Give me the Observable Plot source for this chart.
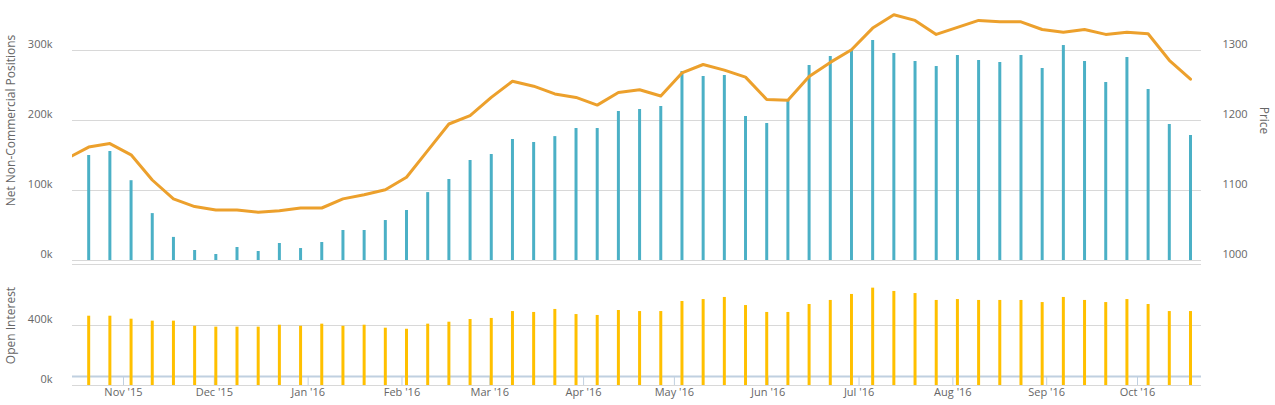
<!DOCTYPE html>
<html><head><meta charset="utf-8">
<script src="https://cdn.jsdelivr.net/npm/d3@7"></script>
<script src="https://cdn.jsdelivr.net/npm/@observablehq/plot@0.6"></script>
<style>
html,body{margin:0;padding:0;background:#fff;}
#chart{position:relative;width:1275px;height:405px;overflow:hidden;font-family:"Open Sans",sans-serif;}
#chart svg{position:absolute;left:0;}
</style></head><body><div id="chart"></div>
<script>
const weeks = ["2015-10-13","2015-10-20","2015-10-27","2015-11-03","2015-11-10","2015-11-17","2015-11-24","2015-12-01","2015-12-08","2015-12-15","2015-12-22","2015-12-29",
"2016-01-05","2016-01-12","2016-01-19","2016-01-26","2016-02-02","2016-02-09","2016-02-16","2016-02-23","2016-03-01","2016-03-08","2016-03-15","2016-03-22","2016-03-29",
"2016-04-05","2016-04-12","2016-04-19","2016-04-26","2016-05-03","2016-05-10","2016-05-17","2016-05-24","2016-05-31","2016-06-07","2016-06-14","2016-06-21","2016-06-28",
"2016-07-05","2016-07-12","2016-07-19","2016-07-26","2016-08-02","2016-08-09","2016-08-16","2016-08-23","2016-08-30","2016-09-06","2016-09-13","2016-09-20","2016-09-27",
"2016-10-04","2016-10-11","2016-10-18"];
const netPositions = [null,150000,155700,114000,67000,33000,14300,8600,18600,12900,24300,17100,25700,42900,42900,57100,71400,97000,115700,142900,151400,172900,168600,177000,188600,188600,212900,215700,220000,270000,262900,264300,205700,195700,228600,278600,291400,301400,314300,295700,284300,277100,292900,285700,282900,292900,274300,307100,284300,254300,290000,244300,194300,178600];
const price = [1146,1162,1167,1151,1115,1088,1077,1072,1072,1069,1071,1075,1075,1088,1094,1101,1119,1157,1195,1207,1233,1256,1249,1238,1233,1222,1240,1244,1235,1268,1280,1272,1262,1230,1229,1263,1283,1301,1332,1351,1343,1323,1333,1343,1341,1341,1330,1326,1330,1323,1326,1324,1286,1259];
const openInterest = [null,462000,462000,442000,429000,429000,395000,389000,389000,389000,402000,395000,409000,395000,402000,382000,375000,409000,422000,440000,447000,493000,487000,507000,473000,467000,500000,493000,493000,560000,573000,587000,533000,487000,487000,540000,567000,607000,649000,627000,613000,567000,573000,567000,567000,567000,553000,587000,567000,553000,573000,540000,493000,493000];
const monthTicks = ["2015-11-01","2015-12-01","2016-01-01","2016-02-01","2016-03-01","2016-04-01","2016-05-01","2016-06-01","2016-07-01","2016-08-01","2016-09-01","2016-10-01"];
const positionTicks = [0,100000,200000,300000];
const priceTicks = [1000,1100,1200,1300];
const oiTicks = [0,400000];

const COL_BLUE = "#4bb0c6", COL_ORANGE = "#eca02c", COL_YELLOW = "#ffc000";
const GRID = "#d8d8d8", AXISLINE = "#c0d0e0", TEXT = "#666666";
const halfDay = 12 * 3600e3;
const xDomain = [new Date("2015-10-15T03:40Z"), new Date("2016-10-22T03:20Z")];
const rows = weeks.map((w, i) => ({date: new Date(w + "T00:00Z"), net: netPositions[i], price: price[i], oi: openInterest[i]}));
const bars = rows.filter(d => d.net != null);
const priceToPos = p => (p - 1000) * 1000; // price 1000..1300 aligned with 0..300k
const months = monthTicks.map(m => new Date(m + "T00:00Z"));
const style = {fontFamily: '"Open Sans", sans-serif', fontSize: "11px", color: TEXT, background: "transparent", overflow: "visible"};

const topPanel = Plot.plot({
  width: 1275, height: 268, marginLeft: 72, marginRight: 74, marginTop: 0, marginBottom: 8,
  style,
  x: {type: "utc", domain: xDomain, axis: null},
  y: {domain: [0, 371430], axis: null},
  marks: [
    Plot.ruleY(positionTicks, {stroke: GRID, strokeWidth: 1}),
    Plot.ruleY([0], {stroke: GRID, strokeWidth: 1, dy: 4}),
    Plot.ruleX(bars, {x: d => new Date(+d.date + halfDay), y1: 0, y2: "net", stroke: COL_BLUE, strokeWidth: 3}),
    Plot.line(rows, {x: d => new Date(+d.date + halfDay), y: d => priceToPos(d.price), stroke: COL_ORANGE, strokeWidth: 3, clip: true, strokeLinejoin: "round"}),
    Plot.axisY({ticks: positionTicks, tickFormat: d => d / 1000 + "k", tickSize: 0, tickPadding: 20, dy: -6, label: null, fill: TEXT, fontSize: 11}),
    Plot.axisY({anchor: "right", ticks: priceTicks.map(priceToPos), tickFormat: d => String(1000 + d / 1000), tickSize: 0, tickPadding: 21, dy: -6, label: null, fill: TEXT, fontSize: 11}),
    Plot.text(["Net Non-Commercial Positions"], {frameAnchor: "left", textAnchor: "middle", rotate: -90, dx: -61, dy: -10, fill: TEXT, fontSize: 12}),
    Plot.text(["Price"], {frameAnchor: "right", textAnchor: "middle", rotate: 90, dx: 62, dy: -10, fill: TEXT, fontSize: 12})
  ]
});
topPanel.style.top = "0px";

const bottomPanel = Plot.plot({
  width: 1275, height: 137, marginLeft: 72, marginRight: 74, marginTop: 5, marginBottom: 20,
  style,
  x: {type: "utc", domain: xDomain, axis: null},
  y: {domain: [0, 746670], axis: null},
  marks: [
    Plot.ruleY(oiTicks, {stroke: GRID, strokeWidth: 1}),
    Plot.ruleY([60000], {stroke: AXISLINE, strokeWidth: 2}),
    Plot.ruleX(months, {y1: 0, y2: 60000, stroke: AXISLINE, strokeWidth: 1}),
    Plot.ruleX(bars, {x: d => new Date(+d.date + halfDay), y1: 0, y2: "oi", stroke: COL_YELLOW, strokeWidth: 3}),
    Plot.axisY({ticks: oiTicks, tickFormat: d => d / 1000 + "k", tickSize: 0, tickPadding: 20, dy: -6, label: null, fill: TEXT, fontSize: 11}),
    Plot.axisX({ticks: months, tickFormat: d3.utcFormat("%b '%y"), tickSize: 0, tickPadding: 3, label: null, fill: TEXT, fontSize: 11}),
    Plot.text(["Open Interest"], {frameAnchor: "left", textAnchor: "middle", rotate: -90, dx: -61, dy: -4, fill: TEXT, fontSize: 12})
  ]
});
bottomPanel.style.top = "268px";

const chart = document.getElementById("chart");
chart.append(topPanel, bottomPanel);
</script>
</body></html>
